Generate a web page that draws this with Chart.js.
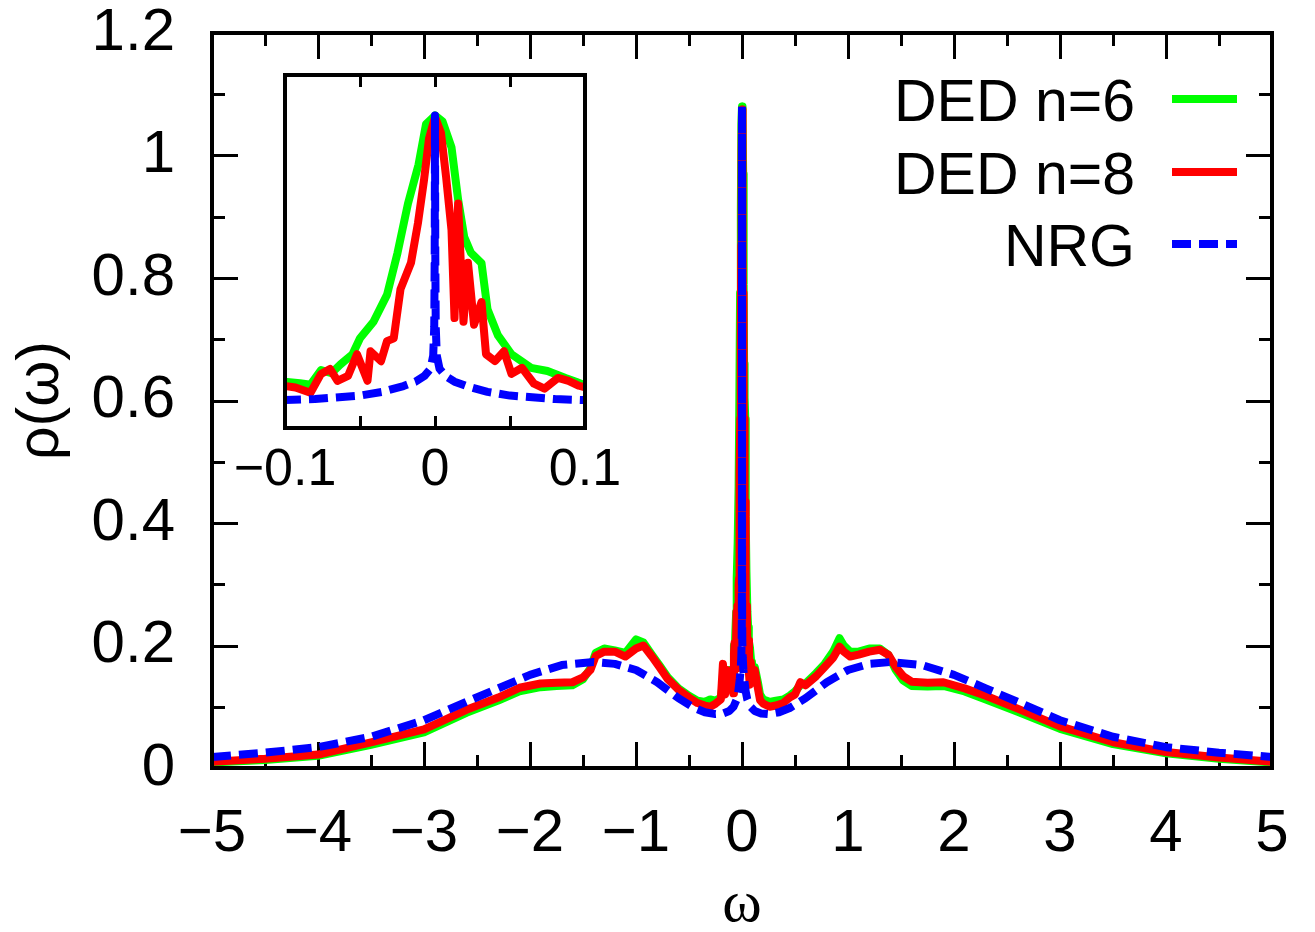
<!DOCTYPE html>
<html>
<head>
<meta charset="utf-8">
<script src="https://cdn.jsdelivr.net/npm/chart.js@4.4.0/dist/chart.umd.min.js"></script>
<style>
  html, body { margin: 0; padding: 0; background: #fff; }
  #wrap { position: relative; width: 1315px; height: 932px; }
  #wrap canvas { position: absolute; left: 0; top: 0; }
</style>
</head>
<body>
<div id="wrap">
  <canvas id="mainChart" width="1315" height="932"></canvas>
  <canvas id="insetChart" width="1315" height="932"></canvas>
</div>
<script>
// ---- data ----
// DED n=6 (green)
const omegaN6 = [
  -5, -4.5, -4, -3.5, -3, -2.6, -2.3, -2.1, -1.9, -1.75, -1.6, -1.5, -1.43, -1.38, -1.3, -1.2, -1.1, -1.0, -0.93, -0.85,
  -0.78, -0.7, -0.6, -0.5, -0.42, -0.35, -0.3, -0.25, -0.2, -0.18, -0.16, -0.14, -0.12,
  -0.101, -0.09, -0.083, -0.076, -0.069, -0.063, -0.055, -0.05, -0.041, -0.032, -0.025, -0.018, -0.011, -0.006, 0,
  0.005, 0.011, 0.0154, 0.0195, 0.024, 0.031, 0.035, 0.042, 0.051, 0.058, 0.064, 0.075, 0.087, 0.094, 0.101,
  0.12, 0.15, 0.17, 0.2, 0.26, 0.32, 0.39, 0.45, 0.5, 0.55, 0.6, 0.7, 0.78, 0.86, 0.92, 0.96, 1.02, 1.1, 1.2, 1.3,
  1.38, 1.45, 1.52, 1.6, 1.75, 1.9, 2.1, 2.3, 2.6, 3, 3.5, 4, 4.5, 5
];
const rhoN6 = [
  0.009, 0.013, 0.02, 0.038, 0.058, 0.09, 0.11, 0.125, 0.132, 0.134, 0.135, 0.145, 0.163, 0.188, 0.195, 0.192, 0.188, 0.21, 0.205, 0.185,
  0.168, 0.148, 0.13, 0.118, 0.11, 0.108, 0.112, 0.11, 0.115, 0.14, 0.13, 0.155, 0.16,
  0.16, 0.155, 0.15, 0.2, 0.19, 0.22, 0.255, 0.31, 0.367, 0.46, 0.605, 0.776, 0.91, 1.05, 1.08,
  1.06, 0.97, 0.79, 0.66, 0.605, 0.57, 0.41, 0.32, 0.255, 0.23, 0.208, 0.197, 0.173, 0.16, 0.146,
  0.165, 0.14, 0.12, 0.112, 0.108, 0.11, 0.112, 0.118, 0.125, 0.135, 0.138, 0.155, 0.17, 0.19, 0.212, 0.2, 0.19, 0.19, 0.195, 0.195,
  0.185, 0.16, 0.143, 0.134, 0.133, 0.134, 0.125, 0.112, 0.092, 0.064, 0.039, 0.024, 0.015, 0.009
];

// DED n=8 (red)
const omegaN8 = [
  -5, -4.5, -4, -3.5, -3, -2.6, -2.3, -2.1, -1.9, -1.75, -1.6, -1.5, -1.43, -1.38, -1.3, -1.2, -1.1, -1.0, -0.93, -0.85,
  -0.78, -0.7, -0.6, -0.5, -0.42, -0.35, -0.3, -0.25, -0.2, -0.18, -0.16, -0.14, -0.12,
  -0.101, -0.093, -0.083, -0.076, -0.07, -0.065, -0.058, -0.052, -0.045, -0.043, -0.036, -0.032, -0.0275, -0.023, -0.016, -0.0114, -0.0074, -0.004, 0,
  0.004, 0.0074, 0.011, 0.013, 0.0154, 0.019, 0.022, 0.026, 0.031, 0.034, 0.04, 0.046, 0.051, 0.058, 0.066, 0.073, 0.082, 0.089, 0.096, 0.101,
  0.12, 0.15, 0.17, 0.2, 0.26, 0.32, 0.39, 0.45, 0.5, 0.55, 0.6, 0.7, 0.78, 0.86, 0.92, 0.96, 1.02, 1.1, 1.2, 1.3,
  1.38, 1.45, 1.52, 1.6, 1.75, 1.9, 2.1, 2.3, 2.6, 3, 3.5, 4, 4.5, 5
];
const rhoN8 = [
  0.01, 0.015, 0.022, 0.042, 0.063, 0.095, 0.115, 0.131, 0.138, 0.139, 0.14, 0.148, 0.16, 0.183, 0.19, 0.19, 0.182, 0.195, 0.2, 0.182,
  0.165, 0.145, 0.128, 0.115, 0.106, 0.102, 0.1, 0.105, 0.112, 0.17, 0.12, 0.16, 0.15,
  0.146, 0.14, 0.122, 0.187, 0.204, 0.163, 0.18, 0.255, 0.163, 0.265, 0.231, 0.3, 0.31, 0.48, 0.571, 0.707, 0.854, 1.0, 1.075,
  1.02, 0.867, 0.684, 0.38, 0.776, 0.367, 0.571, 0.357, 0.435, 0.255, 0.231, 0.265, 0.187, 0.208, 0.153, 0.136, 0.173, 0.163, 0.146, 0.139,
  0.16, 0.13, 0.111, 0.105, 0.1, 0.102, 0.106, 0.115, 0.12, 0.14, 0.135, 0.15, 0.165, 0.18, 0.198, 0.19, 0.182, 0.185, 0.19, 0.193,
  0.185, 0.165, 0.15, 0.141, 0.139, 0.14, 0.13, 0.118, 0.097, 0.068, 0.042, 0.026, 0.017, 0.01
];

// NRG (blue dashed)
const omegaNRG = [
  -5, -4.5, -4, -3.5, -3, -2.6, -2.3, -2, -1.7, -1.4, -1.2, -1, -0.8, -0.6, -0.45, -0.35, -0.25, -0.18, -0.12, -0.08,
  -0.05, -0.035, -0.021, -0.013, -0.007, -0.003, -0.0012, -0.0005, -0.0002, 0,
  0.0002, 0.0005, 0.0012, 0.003, 0.007, 0.013, 0.021, 0.035, 0.05,
  0.08, 0.12, 0.18, 0.25, 0.35, 0.45, 0.6, 0.8, 1, 1.2, 1.4, 1.7, 2, 2.3, 2.6, 3, 3.5, 4, 4.5, 5
];
const rhoNRG = [
  0.018, 0.025, 0.034, 0.051, 0.078, 0.108, 0.13, 0.152, 0.168, 0.173, 0.17, 0.16, 0.14, 0.114, 0.098, 0.091, 0.088, 0.089, 0.093, 0.1,
  0.112, 0.125, 0.145, 0.16, 0.18, 0.205, 0.25, 0.35, 0.6, 1.08,
  0.6, 0.35, 0.25, 0.205, 0.18, 0.16, 0.145, 0.125, 0.112,
  0.1, 0.093, 0.089, 0.088, 0.091, 0.098, 0.114, 0.14, 0.16, 0.17, 0.173, 0.168, 0.152, 0.13, 0.108, 0.078, 0.051, 0.034, 0.025, 0.018
];

const seriesLabels = ['DED n=6', 'DED n=8', 'NRG'];
const seriesColors = ['#00ff00', '#ff0000', '#0000ff'];

const xTickValues = [-5, -4, -3, -2, -1, 0, 1, 2, 3, 4, 5];
const xTickLabels = ['\u22125', '\u22124', '\u22123', '\u22122', '\u22121', '0', '1', '2', '3', '4', '5'];
const yTickValues = [0, 0.2, 0.4, 0.6, 0.8, 1, 1.2];
const yTickLabels = ['0', '0.2', '0.4', '0.6', '0.8', '1', '1.2'];
const insetTickValues = [-0.1, 0, 0.1];
const insetTickLabels = ['\u22120.1', '0', '0.1'];

const SANS = "'Liberation Sans', Arial, Helvetica, sans-serif";
const SERIF = "'Liberation Serif', 'Times New Roman', serif";

function zip(xs, ys) {
    return xs.map(function(x, i){ return {x: x, y: ys[i]}; });
}

function buildDatasets() {
    return [
        { label: seriesLabels[0], data: zip(omegaN6, rhoN6), borderColor: seriesColors[0], order: 3 },
        { label: seriesLabels[1], data: zip(omegaN8, rhoN8), borderColor: seriesColors[1], order: 2 },
        { label: seriesLabels[2], data: zip(omegaNRG, rhoNRG), borderColor: seriesColors[2], order: 1, borderDash: [19, 8] }
    ].map(function(ds){
        ds.borderWidth = 8;
        ds.pointRadius = 0;
        ds.tension = 0;
        ds.fill = false;
        ds.borderJoinStyle = 'round';
        ds.clip = 0;
        return ds;
    });
}

function labelFor(values, labels) {
    return function(v){
        for (let i = 0; i < values.length; i++) {
            if (Math.abs(values[i] - v) < 1e-6) return labels[i];
        }
        return '';
    };
}

// no extra room for overhanging tick labels: the plot box is fixed by the layout padding
function fixWidth(w) {
    return function(s){ s.width = w; s.paddingTop = 0; s.paddingBottom = 0; s.paddingLeft = 0; s.paddingRight = 0; };
}
function fixHeight(h) {
    return function(s){ s.height = h; s.paddingTop = 0; s.paddingBottom = 0; s.paddingLeft = 0; s.paddingRight = 0; };
}

// tics drawn inward on all four sides, plus the box
const frameTicks = {
    id: 'frameTicks',
    beforeDatasetsDraw(chart, args, opts) {
        const ctx = chart.ctx, a = chart.chartArea;
        const x = chart.scales.x, y = chart.scales.y;
        ctx.save();
        ctx.strokeStyle = '#000';
        ctx.lineWidth = opts.tickWidth;
        ctx.lineCap = 'butt';
        ctx.beginPath();
        function xt(list, len){
            list.forEach(function(v){
                const p = Math.round(x.getPixelForValue(v)) + 0.5;
                ctx.moveTo(p, a.bottom); ctx.lineTo(p, a.bottom - len);
                ctx.moveTo(p, a.top); ctx.lineTo(p, a.top + len);
            });
        }
        function yt(list, len){
            list.forEach(function(v){
                const p = Math.round(y.getPixelForValue(v)) + 0.5;
                ctx.moveTo(a.left, p); ctx.lineTo(a.left + len, p);
                ctx.moveTo(a.right, p); ctx.lineTo(a.right - len, p);
            });
        }
        xt(opts.xMajor, opts.majorLen);
        xt(opts.xMinor, opts.minorLen);
        yt(opts.yMajor, opts.majorLen);
        yt(opts.yMinor, opts.minorLen);
        ctx.stroke();
        ctx.restore();
    },
    afterDatasetsDraw(chart, args, opts) {
        const ctx = chart.ctx, a = chart.chartArea;
        ctx.save();
        ctx.strokeStyle = '#000';
        ctx.lineWidth = opts.frameWidth;
        ctx.strokeRect(a.left, a.top, a.right - a.left, a.bottom - a.top);
        ctx.restore();
    }
};

// key in the top right corner: text right-aligned, line sample after it
const lineKey = {
    id: 'lineKey',
    afterDatasetsDraw(chart, args, opts) {
        if (!opts.show) return;
        const ctx = chart.ctx;
        ctx.save();
        ctx.font = opts.fontSize + 'px ' + SANS;
        ctx.fillStyle = '#000';
        ctx.textAlign = 'right';
        ctx.textBaseline = 'alphabetic';
        chart.data.datasets.forEach(function(ds, i){
            const cy = opts.rows[i];
            ctx.fillText(ds.label, opts.textRight, cy + opts.baselineShift);
            ctx.beginPath();
            ctx.strokeStyle = ds.borderColor;
            ctx.lineWidth = ds.borderWidth;
            ctx.setLineDash(ds.borderDash || []);
            ctx.moveTo(opts.lineFrom, cy);
            ctx.lineTo(opts.lineTo, cy);
            ctx.stroke();
        });
        ctx.restore();
    }
};

function mids(list) {
    const out = [];
    for (let i = 0; i < list.length - 1; i++) out.push((list[i] + list[i + 1]) / 2);
    return out;
}

(function(){
    const mainCtx = document.getElementById('mainChart').getContext('2d');
    new Chart(mainCtx, {
        type: 'line',
        data: { datasets: buildDatasets() },
        options: {
            responsive: false,
            animation: false,
            events: [],
            layout: { padding: { left: 0, top: 33, right: 43, bottom: 0 } },
            plugins: {
                legend: { display: false },
                tooltip: { enabled: false },
                frameTicks: {
                    xMajor: xTickValues, xMinor: mids(xTickValues),
                    yMajor: yTickValues, yMinor: mids(yTickValues),
                    majorLen: 26, minorLen: 13, tickWidth: 3, frameWidth: 4
                },
                lineKey: {
                    show: true, fontSize: 59, textRight: 1135, lineFrom: 1172, lineTo: 1237,
                    rows: [99, 172, 244], baselineShift: 22
                }
            },
            scales: {
                x: {
                    type: 'linear', min: -5, max: 5,
                    grid: { display: false, drawTicks: false },
                    border: { display: false },
                    ticks: {
                        stepSize: 1, autoSkip: false, maxRotation: 0, padding: 36, color: '#000',
                        font: { family: SANS, size: 60, lineHeight: 1 },
                        callback: labelFor(xTickValues, xTickLabels)
                    },
                    title: {
                        display: true, text: '\u03c9', color: '#000',
                        font: { family: SERIF, size: 60, lineHeight: 0.9 }, padding: 0
                    },
                    afterFit: fixHeight(164)
                },
                y: {
                    type: 'linear', min: 0, max: 1.2,
                    grid: { display: false, drawTicks: false },
                    border: { display: false },
                    ticks: {
                        stepSize: 0.2, autoSkip: false, padding: 37, color: '#000',
                        font: { family: SANS, size: 60, lineHeight: 1 },
                        callback: labelFor(yTickValues, yTickLabels)
                    },
                    title: {
                        display: true, text: '\u03c1(\u03c9)', color: '#000',
                        font: { family: SANS, size: 59, lineHeight: 1.2 }, padding: { top: 6, bottom: 0 }
                    },
                    afterFit: fixWidth(212)
                }
            }
        },
        plugins: [frameTicks, lineKey]
    });

    const insetCtx = document.getElementById('insetChart').getContext('2d');
    new Chart(insetCtx, {
        type: 'line',
        data: { datasets: buildDatasets() },
        options: {
            responsive: false,
            animation: false,
            events: [],
            layout: { padding: { left: 285, top: 75, right: 1315 - 585, bottom: 932 - 428 - 80 } },
            plugins: {
                legend: { display: false },
                tooltip: { enabled: false },
                frameTicks: {
                    xMajor: [-0.05, 0, 0.05], xMinor: [],
                    yMajor: [], yMinor: [],
                    majorLen: 12, minorLen: 0, tickWidth: 3, frameWidth: 4
                },
                lineKey: { show: false }
            },
            scales: {
                x: {
                    type: 'linear', min: -0.1, max: 0.1,
                    grid: { display: false, drawTicks: false },
                    border: { display: false },
                    ticks: {
                        stepSize: 0.1, autoSkip: false, maxRotation: 0, padding: 17, color: '#000',
                        font: { family: SANS, size: 52, lineHeight: 1 },
                        callback: labelFor(insetTickValues, insetTickLabels)
                    },
                    afterFit: fixHeight(80)
                },
                y: { type: 'linear', min: 0, max: 1.22, display: false }
            }
        },
        plugins: [frameTicks, lineKey]
    });
})();
</script>
</body>
</html>
